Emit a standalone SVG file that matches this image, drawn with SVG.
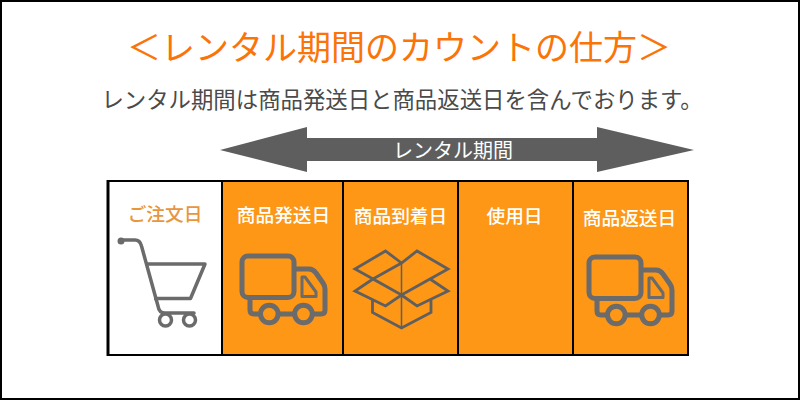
<svg xmlns="http://www.w3.org/2000/svg" width="800" height="400" viewBox="0 0 800 400">
<style>
text{font-family:"Noto Sans CJK JP","Noto Sans",sans-serif;text-anchor:middle}
.cell{fill:#fd9715;stroke:#000;stroke-width:2}
.lab{font-size:18.700px;fill:#fff;font-weight:500}
.ic{fill:none;stroke:#6b6b6b;stroke-width:5;stroke-linejoin:round;stroke-linecap:butt}
.bx{fill:none;stroke:#5f5f5f;stroke-width:2.800;stroke-linejoin:miter}
</style>
<defs>
<g id="truck">
<rect x="242" y="256" width="52" height="41.500" rx="6" class="ic"/>
<path class="ic" d="M296 269H309Q313 269 316 273L323 283Q325 286 325 289V310Q325 314 321 314H313M295 314H278M260 314H254Q250 314 250 310V299"/>
<path d="M302 277H305L316 292V296.500H302Z" fill="none" stroke="#6b6b6b" stroke-width="3" stroke-linejoin="round"/>
<circle cx="269.300" cy="314" r="8.800" fill="none" stroke="#6b6b6b" stroke-width="5"/>
<circle cx="303.500" cy="314" r="8.800" fill="none" stroke="#6b6b6b" stroke-width="5"/>
</g>
</defs>
<rect x="0" y="0" width="800" height="400" fill="#fff"/>
<rect x="1" y="1" width="798" height="398" fill="none" stroke="#000" stroke-width="2"/>
<text x="399" y="60" font-size="34px" fill="#fb7408">＜レンタル期間のカウントの仕方＞</text>
<text x="402" y="108" font-size="22.400px" fill="#4a4a4a">レンタル期間は商品発送日と商品返送日を含んでおります。</text>
<g id="period">
<path d="M220 150L307 127V138H597V127L694 150L597 172V161H307V172Z" fill="#5e5e5e"/>
<text x="453" y="158" font-size="20px" fill="#fff">レンタル期間</text>
</g>
<g id="order">
<rect x="108" y="181" width="114" height="174" fill="#fff" stroke="#000" stroke-width="2"/>
<path d="M108 180V356" stroke="#000" stroke-width="3"/>
<text x="165" y="221" font-size="18.700px" fill="#e8963c" font-weight="500">ご注文日</text>
<g>
<circle cx="121" cy="241" r="3.500" fill="#6b6b6b"/>
<path d="M121 240H135Q140 240 141.500 246L158 306Q159 313 165 313H194" fill="none" stroke="#6b6b6b" stroke-width="3.500" stroke-linecap="round" stroke-linejoin="round"/>
<path d="M146.500 264H205L190.500 298.500H154" fill="none" stroke="#6b6b6b" stroke-width="3.500" stroke-linejoin="round"/>
<circle cx="165.500" cy="320" r="6" fill="#fff" stroke="#6b6b6b" stroke-width="3.500"/>
<circle cx="189.500" cy="320" r="6" fill="#fff" stroke="#6b6b6b" stroke-width="3.500"/>
</g>
</g>
<g id="ship">
<rect x="222" y="181" width="121" height="174" class="cell"/>
<text class="lab" x="283.500" y="222">商品発送日</text>
<use href="#truck"/>
</g>
<g id="arrive">
<rect x="343" y="181" width="115" height="174" class="cell"/>
<text class="lab" x="400.500" y="223">商品到着日</text>
<path class="bx" d="M401.500 263L385.500 251L355 269L373 279L401.500 263L417 251L448 269L430 279L401.500 295L373 279L355 291L385.500 306L401.500 295L417 306L448 291L430 279M372.500 300V312.500L401.500 328L431 312.500V300"/>
<path d="M401.500 263V328" stroke="#5f5f5f" stroke-width="1.500" fill="none"/>
</g>
<g id="use">
<rect x="458" y="181" width="115" height="174" class="cell"/>
<text class="lab" x="514.500" y="223">使用日</text>
</g>
<g id="return">
<rect x="573" y="181" width="115" height="174" class="cell"/>
<text class="lab" x="629.500" y="225">商品返送日</text>
<use href="#truck" x="347" y="1"/>
</g>
</svg>
